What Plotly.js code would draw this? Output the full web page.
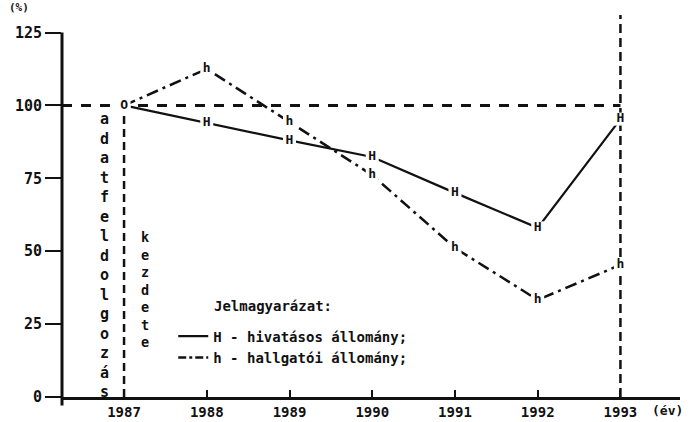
<!DOCTYPE html>
<html><head><meta charset="utf-8">
<script src="https://cdn.plot.ly/plotly-3.0.1.min.js"></script>
<style>body{margin:0;background:#fff}#chart{width:690px;height:422px}</style>
</head><body><div id="chart"></div>
<script>
const years = [1987, 1988, 1989, 1990, 1991, 1992, 1993];
const xTickLabels = ['1987', '1988', '1989', '1990', '1991', '1992', '1993'];
const hivatasos = [100, 94, 88, 82.3, 70, 58, 95.3];
const hallgatoi = [100, 112.5, 94.3, 76.1, 51.1, 33.3, 45.3];
const hivatasosLabels = ['O', 'H', 'H', 'H', 'H', 'H', 'H'];
const hallgatoiLabels = ['O', 'h', 'h', 'h', 'h', 'h', 'h'];
const yTicks = [0, 25, 50, 75, 100, 125];
const yTickLabels = ['0', '25', '50', '75', '100', '125'];
const seriesNames = ['H - hivatásos állomány;', 'h - hallgatói állomány;'];
const legendTitle = 'Jelmagyarázat:';
const startLabel = 'adatfeldolgozás';
const startLabel2 = 'kezdete';

const F = 'DejaVu Sans Mono, Liberation Mono, monospace';
const INK = '#111';
const xr = [1986.25, 1993.72];
const yr = [0, 131];

const labelMarker = {symbol: 'square', size: 13, color: 'white', line: {width: 0}};
const traces = [
  {x: years, y: hivatasos, mode: 'lines+markers+text', text: hivatasosLabels,
   textposition: 'middle center', textfont: {family: F, size: 13, weight: 'bold', color: INK},
   line: {color: INK, width: 2.2}, marker: labelMarker, showlegend: false, cliponaxis: false, hoverinfo: 'skip'},
  {x: years, y: hallgatoi, mode: 'lines+markers+text', text: hallgatoiLabels,
   textposition: 'middle center', textfont: {family: F, size: 13, weight: 'bold', color: INK},
   line: {color: INK, width: 2.5, dash: '12px,5px,3px,5px'}, marker: labelMarker, showlegend: false, cliponaxis: false, hoverinfo: 'skip'},
  {x: [null], y: [null], mode: 'lines', name: seriesNames[0], line: {color: INK, width: 2.2}},
  {x: [null], y: [null], mode: 'lines', name: seriesNames[1], line: {color: INK, width: 2.5, dash: '8px,3px,3px,3px'}}
];

const layout = {
  width: 690, height: 422,
  margin: {l: 62, r: 10, t: 15, b: 25},
  paper_bgcolor: 'white', plot_bgcolor: 'white',
  font: {family: F, color: INK},
  showlegend: true,
  legend: {x: 0.18, y: 0.2, xanchor: 'left', yanchor: 'top', bgcolor: 'rgba(0,0,0,0)',
           font: {family: F, size: 14, weight: 'bold', color: INK}, itemwidth: 30, tracegroupgap: 0},
  xaxis: {range: xr, tickvals: years, ticktext: xTickLabels, ticks: 'inside', ticklen: 7, tickwidth: 2,
          tickcolor: INK, showline: true, linewidth: 3, linecolor: INK, showgrid: false, zeroline: false,
          tickfont: {family: F, size: 14, weight: 'bold', color: INK}, fixedrange: true},
  yaxis: {range: yr, tickvals: yTicks, ticktext: yTickLabels, ticks: 'outside', ticklen: 16, tickwidth: 2,
          tickcolor: INK, showline: false, showgrid: false, zeroline: false,
          tickfont: {family: F, size: 15, weight: 'bold', color: INK}, fixedrange: true},
  shapes: [
    {type: 'line', xref: 'paper', yref: 'paper', x0: 0, x1: 0, y0: -0.022, y1: 125 / yr[1], line: {color: INK, width: 3}},
    {type: 'line', xref: 'x', yref: 'y', x0: xr[0], x1: years[6], y0: 100, y1: 100, layer: 'below', line: {color: INK, width: 3, dash: '10px,9px'}},
    {type: 'line', xref: 'x', yref: 'y', x0: years[0], x1: years[0], y0: 0, y1: 100, layer: 'below', line: {color: INK, width: 2.5, dash: '8px,5px'}},
    {type: 'line', xref: 'x', yref: 'y', x0: years[6], x1: years[6], y0: 0, y1: yr[1], layer: 'below', line: {color: INK, width: 2.5, dash: '9px,5px'}}
  ],
  annotations: [
    {xref: 'paper', yref: 'paper', x: -0.07, y: 1.02, text: '(%)', showarrow: false, xanchor: 'center', yanchor: 'middle',
     font: {family: F, size: 11, weight: 'bold', color: INK}},
    {xref: 'paper', yref: 'paper', x: 1.008, y: -0.035, text: '(év)', showarrow: false, xanchor: 'right', yanchor: 'middle',
     font: {family: F, size: 13, weight: 'bold', color: INK}},
    {xref: 'paper', yref: 'paper', x: 0.243, y: 0.238, text: legendTitle, showarrow: false, xanchor: 'left', yanchor: 'middle',
     font: {family: F, size: 14, weight: 'bold', color: INK}},
    {xref: 'x', yref: 'y', x: years[0], xshift: -20, y: 48.5, text: startLabel.split('').join('<br>'), showarrow: false,
     xanchor: 'center', yanchor: 'middle', font: {family: F, size: 15, weight: 'bold', color: INK}},
    {xref: 'x', yref: 'y', x: years[0], xshift: 21, y: 36.7, text: startLabel2.split('').join('<br>'), showarrow: false,
     xanchor: 'center', yanchor: 'middle', font: {family: F, size: 13.5, weight: 'bold', color: INK}}
  ]
};

Plotly.newPlot('chart', traces, layout, {staticPlot: true, displayModeBar: false});
</script>
</body></html>
